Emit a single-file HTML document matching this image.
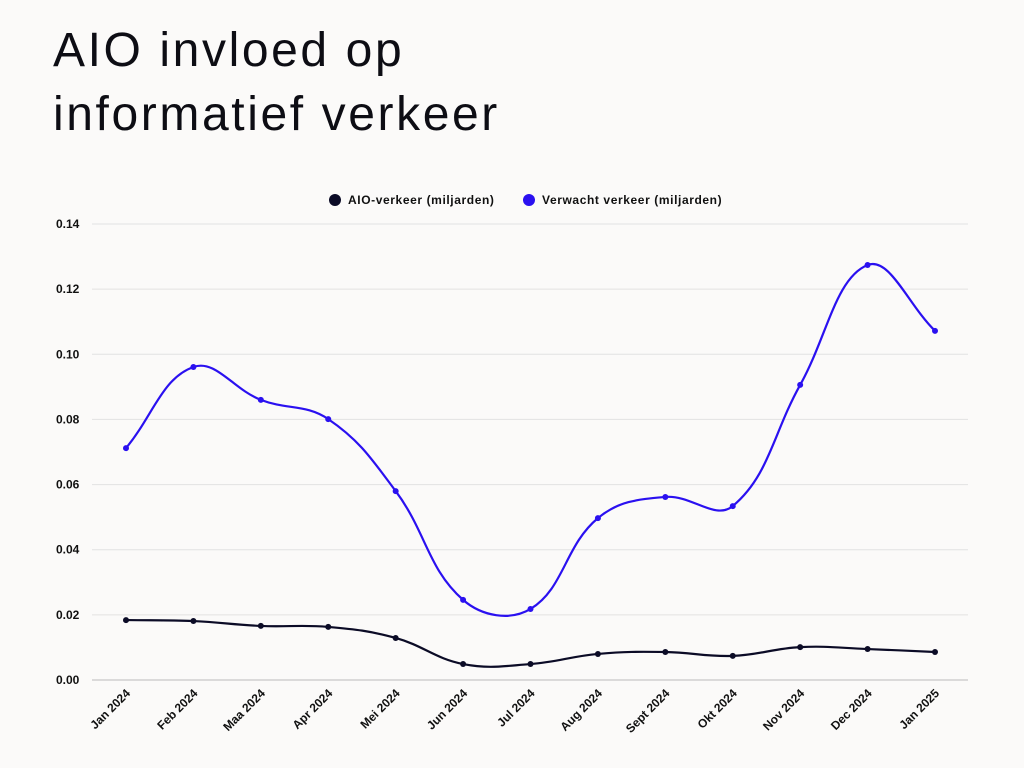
<!DOCTYPE html>
<html><head><meta charset="utf-8"><style>
body{margin:0;background:#fbfaf9;font-family:"Liberation Sans",sans-serif}
h1{position:absolute;left:53px;top:19px;margin:0;font-weight:400;font-size:48px;line-height:64px;letter-spacing:2.6px;color:#0d0d14}
svg{position:absolute;left:0;top:0}
</style></head><body>
<h1>AIO invloed op<br>informatief verkeer</h1>
<svg id="c" width="1024" height="768"></svg>
<script>
const categories=["Jan 2024","Feb 2024","Maa 2024","Apr 2024","Mei 2024","Jun 2024","Jul 2024","Aug 2024","Sept 2024","Okt 2024","Nov 2024","Dec 2024","Jan 2025"];
const aioValues=[0.0184,0.0181,0.0166,0.0163,0.0129,0.0049,0.0049,0.008,0.0086,0.0074,0.0101,0.0095,0.0086];
const expectedValues=[0.0712,0.0961,0.086,0.0801,0.058,0.0246,0.0218,0.0497,0.0562,0.0534,0.0906,0.1274,0.1072];
const yTicks=[0,0.02,0.04,0.06,0.08,0.1,0.12,0.14];
const seriesNames=["AIO-verkeer (miljarden)","Verwacht verkeer (miljarden)"];
const NS="http://www.w3.org/2000/svg",svg=document.getElementById('c');
const X0=126,X1=935,Y0=680,Y1=224,L=92,R=968;
const x=i=>X0+(X1-X0)*i/(categories.length-1);
const y=v=>Y0-(Y0-Y1)*v/0.14;
function mk(t,a){const e=document.createElementNS(NS,t);for(const k in a)e.setAttribute(k,a[k]);svg.appendChild(e);return e;}
yTicks.forEach(t=>{
 const g=mk('line',{x1:L,x2:R,y1:y(t),y2:y(t),stroke:t===0?'#bbb':'#e2e2e2','stroke-width':1});
 
 
 const l=mk('text',{x:56,y:y(t)+4,'font-size':12,fill:'#111','font-weight':'bold'});l.textContent=t.toFixed(2);
 
 
});
categories.forEach((c,i)=>{
 const l=mk('text',{x:x(i)+5,y:Y0+14,'font-size':12,fill:'#111','font-weight':'bold','text-anchor':'end',transform:`rotate(-45 ${x(i)+5} ${Y0+14})`});
 l.textContent=c;
 
 
});
function path(vals){
 const p=vals.map((v,i)=>[x(i),y(v)]);const t=0.4;let d=`M${p[0][0]},${p[0][1]}`;
 const cp=[];
 for(let i=0;i<p.length;i++){
  const a=p[Math.max(0,i-1)],b=p[i],c=p[Math.min(p.length-1,i+1)];
  const d01=Math.hypot(b[0]-a[0],b[1]-a[1]),d12=Math.hypot(c[0]-b[0],c[1]-b[1]);
  const s=d01+d12||1,fa=t*d01/s,fb=t*d12/s;
  cp.push([[b[0]-fa*(c[0]-a[0]),b[1]-fa*(c[1]-a[1])],[b[0]+fb*(c[0]-a[0]),b[1]+fb*(c[1]-a[1])]]);
 }
 for(let i=1;i<p.length;i++)d+=` C${cp[i-1][1][0]},${cp[i-1][1][1]} ${cp[i][0][0]},${cp[i][0][1]} ${p[i][0]},${p[i][1]}`;
 return d;
}
[[aioValues,'#0b0b26','aio'],[expectedValues,'#2a10f0','expected']].forEach(([vals,col,n])=>{
 const l=mk('path',{d:path(vals),fill:'none',stroke:col,'stroke-width':2.2});
 
 
 vals.forEach((v,i)=>{const c=mk('circle',{cx:x(i),cy:y(v),r:3,fill:col});
  
  });
});
[[335,'#0b0b26',seriesNames[0]],[529,'#2a10f0',seriesNames[1]]].forEach(([lx,col,txt])=>{
 const c=mk('circle',{cx:lx,cy:200,r:6,fill:col});
 
 
 const t=mk('text',{x:lx+13,y:204,'font-size':12,'font-weight':'bold',fill:'#111','letter-spacing':0.6});t.textContent=txt;
 
 
});
</script>
</body></html>
